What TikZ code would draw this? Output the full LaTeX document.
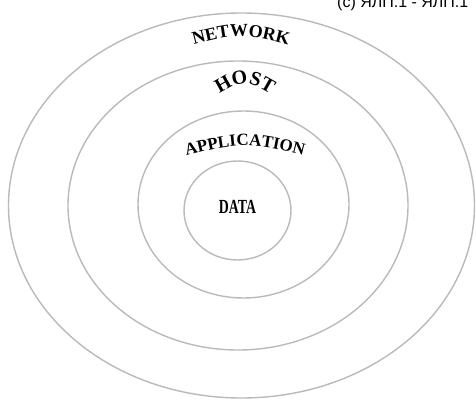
\documentclass[tikz,border=0pt]{standalone}
\usepackage{fontspec}
\setmainfont{Liberation Serif}
\newfontfamily\capsans{Liberation Sans}
\usetikzlibrary{decorations.text}
\tikzset{
  ring/.style={draw=black!27, line width=1.4pt},
  arcword/.style={decorate, decoration={text along path, text align=center, text={#1}}}
}
\newcommand{\netfont}{\bfseries\fontsize{18}{18}\selectfont}
\newcommand{\hostfont}{\bfseries\fontsize{20}{20}\selectfont}
\newcommand{\appfont}{\bfseries\fontsize{17}{17}\selectfont}
\begin{document}
\begin{tikzpicture}[x=1pt,y=1pt]
\useasboundingbox (0,0) rectangle (476,399);
\fill[white] (0,0) rectangle (476,399);
% rings
\draw[ring] (241.5,193.5) ellipse [x radius=233, y radius=192.5];
\draw[ring] (238,193.5) ellipse [x radius=170, y radius=144.5];
\draw[ring] (243.5,194.5) ellipse [x radius=105.5, y radius=93.5];
\draw[ring] (237.5,188.5) ellipse [x radius=53.5, y radius=49.5];
% curved labels
\path[arcword={|\netfont|NETWORK}] (175,349) .. controls (241,367) .. (307,349);
\path[arcword={|\hostfont|HOST}] (203,294) .. controls (245,322) .. (287,294);
\path[arcword={|\appfont|APPLICATION}] (172,240) .. controls (245,258) .. (318,240);
\node[font=\bfseries\fontsize{20}{20}\selectfont, xscale=0.69, inner sep=0] (data) at (237.5,192) {DATA};
% clipped caption at top right
\begin{scope}
\clip (0,0) rectangle (476,399);
\node[anchor=base west, font=\capsans\fontsize{16}{16}\selectfont, inner sep=0] (copy) at (337,391) {(c) ЯЛП.1 - ЯЛП.1};
\end{scope}
\end{tikzpicture}
\end{document}
